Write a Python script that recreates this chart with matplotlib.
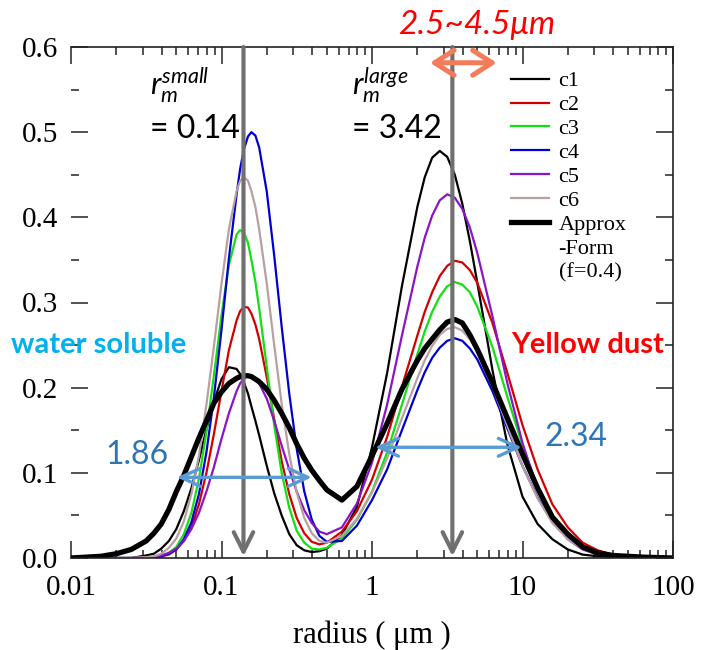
import matplotlib.pyplot as plt
from matplotlib.lines import Line2D
from matplotlib.ticker import LogLocator, MultipleLocator, NullFormatter

# radius grid (um) shared by all curves
radius = [0.01, 0.0158, 0.02, 0.0251, 0.0316, 0.0355, 0.0398, 0.0447, 0.0501, 0.0562,
          0.0631, 0.0708, 0.0794, 0.0891, 0.1, 0.112, 0.126, 0.133, 0.141, 0.150,
          0.158, 0.168, 0.178, 0.2, 0.224, 0.251, 0.282, 0.316, 0.355, 0.398,
          0.447, 0.501, 0.631, 0.794, 1.0, 1.26, 1.58, 2.0, 2.24, 2.51,
          2.82, 3.16, 3.55, 3.98, 4.47, 5.01, 6.31, 7.94, 10.0, 12.6,
          15.8, 20.0, 25.1, 31.6, 39.8, 63.1, 100.0]

c1 = [0.000, 0.000, 0.000, 0.000, 0.003, 0.005, 0.011, 0.020, 0.034, 0.055,
      0.082, 0.115, 0.151, 0.184, 0.210, 0.224, 0.222, 0.216, 0.206, 0.193,
      0.178, 0.161, 0.144, 0.108, 0.076, 0.050, 0.028, 0.015, 0.009, 0.007,
      0.008, 0.011, 0.027, 0.060, 0.130, 0.217, 0.319, 0.412, 0.447, 0.470,
      0.478, 0.471, 0.450, 0.416, 0.372, 0.323, 0.221, 0.133, 0.072, 0.040,
      0.022, 0.010, 0.004, 0.002, 0.001, 0.000, 0.000]

c2 = [0.000, 0.000, 0.000, 0.000, 0.000, 0.001, 0.002, 0.004, 0.010, 0.020,
      0.036, 0.063, 0.100, 0.146, 0.196, 0.244, 0.279, 0.290, 0.295, 0.294,
      0.287, 0.274, 0.257, 0.212, 0.163, 0.114, 0.075, 0.047, 0.029, 0.019,
      0.016, 0.018, 0.031, 0.055, 0.092, 0.142, 0.201, 0.261, 0.289, 0.312,
      0.331, 0.343, 0.349, 0.347, 0.338, 0.323, 0.276, 0.217, 0.156, 0.104,
      0.063, 0.036, 0.018, 0.009, 0.004, 0.001, 0.000]

c3 = [0.000, 0.000, 0.000, 0.000, 0.000, 0.001, 0.002, 0.006, 0.013, 0.028,
      0.053, 0.093, 0.148, 0.215, 0.285, 0.344, 0.380, 0.385, 0.382, 0.370,
      0.350, 0.324, 0.293, 0.224, 0.156, 0.100, 0.059, 0.032, 0.018, 0.011,
      0.010, 0.012, 0.023, 0.045, 0.078, 0.124, 0.180, 0.239, 0.266, 0.289,
      0.307, 0.319, 0.324, 0.321, 0.312, 0.295, 0.248, 0.189, 0.132, 0.084,
      0.049, 0.026, 0.013, 0.006, 0.002, 0.000, 0.000]

c4 = [0.000, 0.000, 0.000, 0.000, 0.000, 0.001, 0.002, 0.005, 0.010, 0.022,
      0.042, 0.075, 0.124, 0.189, 0.268, 0.352, 0.427, 0.457, 0.480, 0.495,
      0.500, 0.496, 0.482, 0.430, 0.355, 0.272, 0.193, 0.128, 0.078, 0.045,
      0.026, 0.019, 0.020, 0.038, 0.068, 0.104, 0.150, 0.197, 0.218, 0.235,
      0.247, 0.255, 0.258, 0.255, 0.246, 0.233, 0.196, 0.152, 0.108, 0.071,
      0.043, 0.024, 0.012, 0.006, 0.002, 0.000, 0.000]

c5 = [0.000, 0.000, 0.000, 0.000, 0.001, 0.001, 0.003, 0.006, 0.011, 0.020,
      0.034, 0.053, 0.078, 0.107, 0.140, 0.170, 0.196, 0.205, 0.211, 0.214,
      0.214, 0.210, 0.205, 0.187, 0.161, 0.132, 0.104, 0.078, 0.056, 0.041,
      0.031, 0.028, 0.036, 0.064, 0.112, 0.180, 0.261, 0.342, 0.376, 0.402,
      0.420, 0.427, 0.423, 0.410, 0.388, 0.358, 0.284, 0.205, 0.135, 0.081,
      0.044, 0.022, 0.010, 0.004, 0.002, 0.000, 0.000]

c6 = [0.000, 0.000, 0.000, 0.000, 0.001, 0.002, 0.005, 0.012, 0.023, 0.043,
      0.075, 0.120, 0.180, 0.249, 0.322, 0.386, 0.431, 0.443, 0.447, 0.443,
      0.431, 0.412, 0.386, 0.322, 0.250, 0.181, 0.122, 0.077, 0.047, 0.029,
      0.020, 0.018, 0.026, 0.046, 0.077, 0.117, 0.164, 0.211, 0.232, 0.249,
      0.262, 0.269, 0.271, 0.267, 0.257, 0.243, 0.202, 0.155, 0.108, 0.070,
      0.041, 0.022, 0.011, 0.005, 0.002, 0.000, 0.000]

approx = [0.000, 0.002, 0.005, 0.010, 0.020, 0.029, 0.040, 0.057, 0.078, 0.097,
          0.119, 0.141, 0.161, 0.182, 0.195, 0.205, 0.211, 0.213, 0.214, 0.214,
          0.213, 0.210, 0.207, 0.198, 0.185, 0.170, 0.153, 0.134, 0.117, 0.103,
          0.091, 0.080, 0.068, 0.084, 0.120, 0.158, 0.198, 0.232, 0.246, 0.257,
          0.268, 0.277, 0.280, 0.276, 0.262, 0.245, 0.206, 0.164, 0.122, 0.082,
          0.048, 0.028, 0.013, 0.006, 0.003, 0.001, 0.000]

series = [c1, c2, c3, c4, c5, c6]
series_names = ["c1", "c2", "c3", "c4", "c5", "c6"]
series_colors = ["#000000", "#d40000", "#11e011", "#0000d0", "#8a14c8", "#b8a0a0"]

x_ticks = [0.01, 0.1, 1, 10, 100]
x_ticklabels = ["0.01", "0.1", "1", "10", "100"]
y_ticks = [0.0, 0.1, 0.2, 0.3, 0.4, 0.5, 0.6]
y_ticklabels = ["0.0", "0.1", "0.2", "0.3", "0.4", "0.5", "0.6"]

# mode radii
rm_small = 0.14
rm_large = 3.42

plt.rcParams['mathtext.fontset'] = 'custom'
plt.rcParams['mathtext.it'] = 'Lato:italic'
plt.rcParams['mathtext.rm'] = 'Lato'

serif = 'Liberation Serif'
sans = ['Lato', 'DejaVu Sans']

fig = plt.figure(figsize=(7.02, 6.5), dpi=100)
ax = fig.add_axes([71 / 702, 92 / 650, 602 / 702, 511 / 650])

lines = []
for ys, name, col in zip(series, series_names, series_colors):
    l, = ax.plot(radius, ys, color=col, lw=1.6, label=name)
    lines.append(l)
l_app, = ax.plot(radius, approx, color='black', lw=3.8, label='Approx')
lines.append(l_app)

ax.set_xscale('log')
ax.set_xlim(0.01, 100)
ax.set_ylim(0, 0.6)
ax.set_xticks(x_ticks)
ax.set_xticklabels(x_ticklabels, fontfamily=serif, fontsize=21)
ax.xaxis.set_minor_locator(LogLocator(base=10, subs=range(2, 10)))
ax.xaxis.set_minor_formatter(NullFormatter())
ax.set_yticks(y_ticks)
ax.set_yticklabels(y_ticklabels, fontfamily=serif, fontsize=21)
ax.yaxis.set_minor_locator(MultipleLocator(0.05))

ax.tick_params(which='both', direction='in', top=True, right=True,
               width=1.1, color='#222222')
ax.tick_params(which='major', length=12)
ax.tick_params(which='minor', length=6)
ax.tick_params(axis='x', pad=12)
ax.tick_params(axis='y', pad=9)
ax.spines['left'].set_visible(False)
for s in ['top', 'bottom', 'right']:
    ax.spines[s].set_linewidth(1.2)
    ax.spines[s].set_color('#222222')

ax.set_xlabel('radius ( μm )', fontfamily=serif, fontsize=22, labelpad=14)

# gray mode markers
for rm in [rm_small, rm_large]:
    ax.annotate('', xy=(rm, 0.002), xytext=(rm, 0.6),
                arrowprops=dict(arrowstyle='->,head_length=0.7,head_width=0.35',
                                color='#707070', lw=3, shrinkA=0, shrinkB=0,
                                mutation_scale=20))

# width arrows
ax.annotate('', xy=(0.0504, 0.0947), xytext=(0.398, 0.0947),
            arrowprops=dict(arrowstyle='<->,head_length=0.7,head_width=0.32',
                            color='#5b9bd5', lw=2.4, shrinkA=0, shrinkB=0,
                            mutation_scale=20))
ax.annotate('', xy=(1.047, 0.130), xytext=(9.9, 0.130),
            arrowprops=dict(arrowstyle='<->,head_length=0.7,head_width=0.32',
                            color='#5b9bd5', lw=2.4, shrinkA=0, shrinkB=0,
                            mutation_scale=20))
ax.annotate('', xy=(2.43, 0.5815), xytext=(6.74, 0.5815),
            annotation_clip=False,
            arrowprops=dict(arrowstyle='<->,head_length=0.7,head_width=0.45',
                            color='#f47c5a', lw=3.6, shrinkA=0, shrinkB=0,
                            mutation_scale=20))

# mode labels
ax.text(0.0335, 0.5436, r'$r_m^{small}$', fontsize=22, ha='left', va='baseline')
ax.text(0.0335, 0.493, '= 0.14', fontsize=23, family=sans, ha='left', va='baseline')
ax.text(0.736, 0.5436, r'$r_m^{large}$', fontsize=22, ha='left', va='baseline')
ax.text(0.736, 0.493, '= 3.42', fontsize=23, family=sans, ha='left', va='baseline')

fig.text(11 / 702, 1 - 345 / 650, 'water soluble', fontsize=21, fontweight='bold',
         color='#00b0f0', family=sans, ha='left', va='center')
fig.text(511 / 702, 1 - 345 / 650, 'Yellow dust', fontsize=21, fontweight='bold',
         color='#ff0000', family=sans, ha='left', va='center')
fig.text(105 / 702, 1 - 455 / 650, '1.86', fontsize=23, color='#2e75b6',
         family=sans, ha='left', va='center')
fig.text(545 / 702, 1 - 437 / 650, '2.34', fontsize=23, color='#2e75b6',
         family=sans, ha='left', va='center')
fig.text(477 / 702, 1 - 25 / 650, '2.5~4.5μm', fontsize=24, color='#ff0000',
         style='italic', family=sans, ha='center', va='center')

# legend
blank = Line2D([], [], color='none')
leg = ax.legend(lines + [blank, blank],
                series_names + ['Approx', '-Form', '(f=0.4)'],
                loc='upper left', bbox_to_anchor=(0.712, 0.975), frameon=False,
                borderpad=0, handlelength=1.7, handletextpad=0.45,
                labelspacing=0.15, prop={'family': serif, 'size': 16})

fig.savefig('out.png', dpi=100)
